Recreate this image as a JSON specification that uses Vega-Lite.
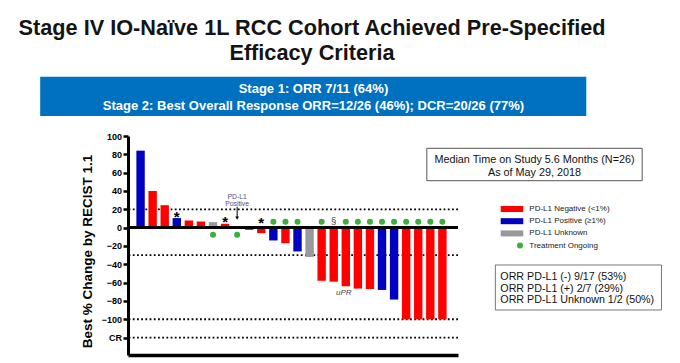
{
  "$schema": "https://vega.github.io/schema/vega-lite/v6.json",
  "width": 330,
  "height": 219,
  "autosize": "none",
  "padding": {"left": 128, "top": 136, "right": 222, "bottom": 8},
  "background": "white",
  "config": {
    "view": {"stroke": null},
    "font": "Liberation Sans",
    "axisY": {
      "labelOverlap": false,
      "tickCount": 12,
      "grid": false,
      "domainColor": "#000", "domainWidth": 3,
      "tickColor": "#000", "tickWidth": 2.5, "tickSize": 5,
      "labelFont": "Liberation Sans", "labelFontSize": 9, "labelFontWeight": "bold", "labelColor": "#000", "labelPadding": 1.5,
      "titleFont": "Liberation Sans", "titleFontSize": 13.5, "titleFontWeight": "bold", "titleColor": "#000",
      "titleX": -37, "titleY": 115, "titleBaseline": "alphabetic", "titleAngle": -90
    }
  },
  "title": {
    "text": ["Stage IV IO-Naïve 1L RCC Cohort Achieved Pre-Specified", "Efficacy Criteria"],
    "font": "Liberation Sans",
    "fontSize": 21.7,
    "fontWeight": "bold",
    "color": "#141414",
    "anchor": "middle",
    "frame": "group",
    "dx": 19,
    "lineHeight": 25.2,
    "offset": 12
  },
  "data": {
    "values": [
      {"patient": 1, "change": 84, "pdl1": "PD-L1 Positive (≥1%)", "ongoing": false, "flag": "", "note": ""},
      {"patient": 2, "change": 40, "pdl1": "PD-L1 Negative (<1%)", "ongoing": false, "flag": "", "note": ""},
      {"patient": 3, "change": 24.5, "pdl1": "PD-L1 Negative (<1%)", "ongoing": false, "flag": "", "note": ""},
      {"patient": 4, "change": 10.4, "pdl1": "PD-L1 Positive (≥1%)", "ongoing": false, "flag": "*", "note": ""},
      {"patient": 5, "change": 7.8, "pdl1": "PD-L1 Negative (<1%)", "ongoing": false, "flag": "", "note": ""},
      {"patient": 6, "change": 6.7, "pdl1": "PD-L1 Negative (<1%)", "ongoing": false, "flag": "", "note": ""},
      {"patient": 7, "change": 6, "pdl1": "PD-L1 Unknown", "ongoing": true, "flag": "", "note": ""},
      {"patient": 8, "change": 4.2, "pdl1": "PD-L1 Negative (<1%)", "ongoing": false, "flag": "*", "note": ""},
      {"patient": 9, "change": 0, "pdl1": "PD-L1 Positive (≥1%)", "ongoing": true, "flag": "", "note": "PD-L1\nPositive"},
      {"patient": 10, "change": -2.5, "pdl1": "PD-L1 Negative (<1%)", "ongoing": false, "flag": "", "note": ""},
      {"patient": 11, "change": -6, "pdl1": "PD-L1 Negative (<1%)", "ongoing": false, "flag": "*", "note": ""},
      {"patient": 12, "change": -14, "pdl1": "PD-L1 Positive (≥1%)", "ongoing": true, "flag": "", "note": ""},
      {"patient": 13, "change": -17, "pdl1": "PD-L1 Negative (<1%)", "ongoing": true, "flag": "", "note": ""},
      {"patient": 14, "change": -26, "pdl1": "PD-L1 Positive (≥1%)", "ongoing": true, "flag": "", "note": ""},
      {"patient": 15, "change": -32, "pdl1": "PD-L1 Unknown", "ongoing": false, "flag": "", "note": ""},
      {"patient": 16, "change": -58, "pdl1": "PD-L1 Negative (<1%)", "ongoing": true, "flag": "", "note": ""},
      {"patient": 17, "change": -59, "pdl1": "PD-L1 Negative (<1%)", "ongoing": false, "flag": "§", "note": ""},
      {"patient": 18, "change": -64, "pdl1": "PD-L1 Negative (<1%)", "ongoing": true, "flag": "", "note": "uPR"},
      {"patient": 19, "change": -66.5, "pdl1": "PD-L1 Negative (<1%)", "ongoing": true, "flag": "", "note": ""},
      {"patient": 20, "change": -67, "pdl1": "PD-L1 Negative (<1%)", "ongoing": true, "flag": "", "note": ""},
      {"patient": 21, "change": -68, "pdl1": "PD-L1 Positive (≥1%)", "ongoing": true, "flag": "", "note": ""},
      {"patient": 22, "change": -78.5, "pdl1": "PD-L1 Positive (≥1%)", "ongoing": true, "flag": "", "note": ""},
      {"patient": 23, "change": -100, "pdl1": "PD-L1 Negative (<1%)", "ongoing": true, "flag": "", "note": ""},
      {"patient": 24, "change": -100, "pdl1": "PD-L1 Negative (<1%)", "ongoing": true, "flag": "", "note": ""},
      {"patient": 25, "change": -100, "pdl1": "PD-L1 Negative (<1%)", "ongoing": true, "flag": "", "note": ""},
      {"patient": 26, "change": -100, "pdl1": "PD-L1 Negative (<1%)", "ongoing": true, "flag": "", "note": ""}
    ]
  },
  "layer": [
    {
      "data": {"values": [{"level": 20}, {"level": -30}, {"level": -100}, {"level": -120}]},
      "mark": {"type": "rule", "color": "#000", "strokeWidth": 1.8, "strokeDash": [1.8, 2.4]},
      "encoding": {
        "y": {
          "field": "level", "type": "quantitative",
          "scale": {"domain": [-139, 100], "nice": false, "zero": false},
          "axis": {
            "values": [100, 80, 60, 40, 20, 0, -20, -40, -60, -80, -100, -120],
            "labelExpr": "datum.value == -120 ? 'CR' : datum.label",
            "labelOverlap": false,
            "title": "Best % Change by RECIST 1.1"
          }
        }
      }
    },
    {
      "mark": {"type": "bar", "width": 8.4},
      "encoding": {
        "x": {
          "field": "patient", "type": "quantitative",
          "scale": {"domain": [0.373, 26.88], "nice": false, "zero": false},
          "axis": {"labels": false, "ticks": false, "grid": false, "title": null, "domainColor": "#000", "domainWidth": 3.6}
        },
        "y": {
          "field": "change", "type": "quantitative",
          "scale": {"domain": [-139, 100], "nice": false, "zero": false},
          "axis": {
            "values": [100, 80, 60, 40, 20, 0, -20, -40, -60, -80, -100, -120],
            "labelExpr": "datum.value == -120 ? 'CR' : datum.label",
            "labelOverlap": false,
            "title": "Best % Change by RECIST 1.1"
          }
        },
        "fill": {
          "field": "pdl1", "type": "nominal",
          "scale": {
            "domain": ["PD-L1 Negative (<1%)", "PD-L1 Positive (≥1%)", "PD-L1 Unknown", "Treatment Ongoing"],
            "range": ["#FF0000", "#0000C0", "#999999", "#3BAE3B"]
          },
          "legend": {
            "orient": "none", "legendX": 388, "legendY": 69, "title": null,
            "symbolSize": 64, "labelFont": "Liberation Sans", "labelFontSize": 8, "labelColor": "#222",
            "labelOffset": 5.3, "rowPadding": 4.2, "padding": 0, "symbolStrokeWidth": 0,
            "encode": {
              "symbols": {
                "update": {
                  "shape": {"signal": "datum.value === 'Treatment Ongoing' ? 'circle' : 'M-4.825,-0.75H0.825V0.75H-4.825Z'"},
                  "size": {"signal": "datum.value === 'Treatment Ongoing' ? 36 : 64"}
                }
              }
            }
          }
        }
      }
    },
    {
      "mark": {"type": "rule", "color": "#000", "strokeWidth": 2.5},
      "encoding": {"y": {"datum": 0}}
    },
    {
      "transform": [{"filter": "datum.ongoing && datum.change < 0"}],
      "mark": {"type": "point", "filled": true, "color": "#3BAE3B", "size": 36, "opacity": 1},
      "encoding": {"x": {"field": "patient", "type": "quantitative"}, "y": {"datum": 6.4}}
    },
    {
      "transform": [{"filter": "datum.ongoing && datum.change >= 0"}],
      "mark": {"type": "point", "filled": true, "color": "#3BAE3B", "size": 36, "opacity": 1},
      "encoding": {"x": {"field": "patient", "type": "quantitative"}, "y": {"datum": -7.7}}
    },
    {
      "transform": [{"filter": "datum.flag == '*' && datum.change > 0"}],
      "mark": {"type": "text", "fontSize": 15, "fontWeight": "bold", "color": "#000", "baseline": "alphabetic", "dy": 3.5},
      "encoding": {"x": {"field": "patient", "type": "quantitative"}, "y": {"field": "change", "type": "quantitative"}, "text": {"field": "flag"}}
    },
    {
      "transform": [{"filter": "datum.flag == '*' && datum.change < 0"}],
      "mark": {"type": "text", "fontSize": 15, "fontWeight": "bold", "color": "#000", "baseline": "alphabetic", "dy": 0.8},
      "encoding": {"x": {"field": "patient", "type": "quantitative"}, "y": {"datum": 0}, "text": {"field": "flag"}}
    },
    {
      "transform": [{"filter": "datum.flag == '§'"}],
      "mark": {"type": "text", "fontSize": 9.5, "color": "#333", "baseline": "alphabetic", "dy": -3.6},
      "encoding": {"x": {"field": "patient", "type": "quantitative"}, "y": {"datum": 0}, "text": {"field": "flag"}}
    },
    {
      "transform": [{"filter": "datum.note == 'uPR'"}],
      "mark": {"type": "text", "fontSize": 8, "fontStyle": "italic", "color": "#444", "baseline": "alphabetic", "dy": 8.3, "dx": -2},
      "encoding": {"x": {"field": "patient", "type": "quantitative"}, "y": {"field": "change", "type": "quantitative"}, "text": {"field": "note"}}
    },
    {
      "transform": [{"filter": "datum.patient == 9"}],
      "mark": {"type": "text", "fontSize": 6.8, "color": "#4A4A90", "baseline": "alphabetic", "lineBreak": "\n", "lineHeight": 6.6},
      "encoding": {"x": {"field": "patient", "type": "quantitative"}, "y": {"datum": 31.2}, "text": {"field": "note"}}
    },
    {
      "transform": [{"filter": "datum.patient == 9"}],
      "mark": {"type": "rule", "color": "#000", "strokeWidth": 1},
      "encoding": {"x": {"field": "patient", "type": "quantitative"}, "y": {"datum": 22.8}, "y2": {"datum": 10.5}}
    },
    {
      "transform": [{"filter": "datum.patient == 9"}],
      "mark": {"type": "point", "shape": "triangle-down", "filled": true, "color": "#000", "size": 14, "opacity": 1},
      "encoding": {"x": {"field": "patient", "type": "quantitative"}, "y": {"datum": 10.5}}
    },
    {
      "data": {"values": [{"box": "banner"}]},
      "mark": {"type": "rect", "fill": "#0070C0"},
      "encoding": {"x": {"datum": -7.315}, "x2": {"datum": 37.92}, "y": {"datum": 164.7}, "y2": {"datum": 121.8}}
    },
    {
      "data": {"values": [{"label": "Stage 1: ORR 7/11 (64%)\nStage 2: Best Overall Response ORR=12/26 (46%); DCR=20/26 (77%)"}]},
      "mark": {"type": "text", "color": "#FFFFFF", "fontSize": 13, "fontWeight": "bold", "align": "center", "baseline": "alphabetic", "lineBreak": "\n", "lineHeight": 17.3},
      "encoding": {"x": {"datum": 15.32}, "y": {"datum": 147.26}, "text": {"field": "label"}}
    },
    {
      "data": {"values": [{"box": "median"}]},
      "mark": {"type": "rect", "fill": "#FFFFFF", "stroke": "#555", "strokeWidth": 1},
      "encoding": {"x": {"datum": 24.71}, "x2": {"datum": 42.55}, "y": {"datum": 86.58}, "y2": {"datum": 51.22}}
    },
    {
      "data": {"values": [{"label": "Median Time on Study 5.6 Months (N=26)\nAs of May 29, 2018"}]},
      "mark": {"type": "text", "color": "#111", "fontSize": 10.8, "align": "center", "baseline": "alphabetic", "lineBreak": "\n", "lineHeight": 12.4},
      "encoding": {"x": {"datum": 33.63}, "y": {"datum": 70.21}, "text": {"field": "label"}}
    },
    {
      "data": {"values": [{"box": "orr"}]},
      "mark": {"type": "rect", "fill": "#FFFFFF", "stroke": "#777", "strokeWidth": 1},
      "encoding": {"x": {"datum": 30.39}, "x2": {"datum": 44.15}, "y": {"datum": -40.78}, "y2": {"datum": -89.89}}
    },
    {
      "data": {"values": [{"label": "ORR PD-L1 (-) 9/17 (53%)\nORR PD-L1 (+) 2/7 (29%)\nORR PD-L1 Unknown 1/2 (50%)"}]},
      "mark": {"type": "text", "color": "#111", "fontSize": 10.7, "align": "left", "baseline": "alphabetic", "lineBreak": "\n", "lineHeight": 11.7},
      "encoding": {"x": {"datum": 30.8}, "y": {"datum": -57.15}, "text": {"field": "label"}}
    }
  ]
}
